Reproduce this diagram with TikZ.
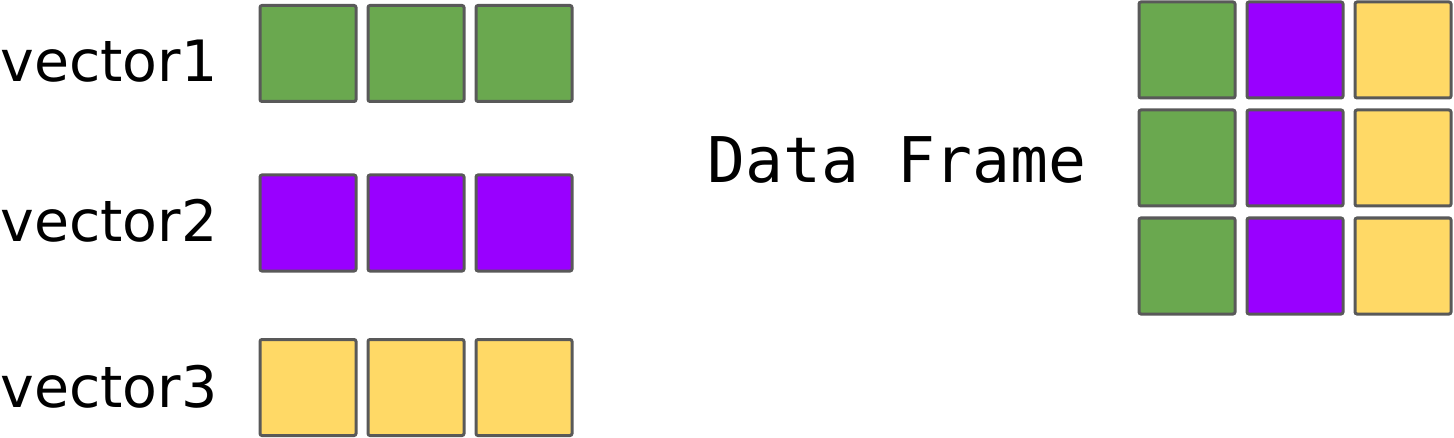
\documentclass[tikz,border=0pt]{standalone}
\usepackage{fontspec}
\setmainfont{DejaVu Sans}
\setmonofont{DejaVu Sans Mono}
\usepackage{xcolor}
\usetikzlibrary{positioning}
\definecolor{colgreen}{HTML}{6AA84F}
\definecolor{colpurple}{HTML}{9900FF}
\definecolor{colyellow}{HTML}{FFD966}
\definecolor{cellborder}{HTML}{595959}
\tikzset{
    cell/.style={rectangle, draw=cellborder, line width=1.5pt, rounded corners=1pt, minimum size=48pt, inner sep=0pt},
    green/.style={cell, fill=colgreen},
    purple/.style={cell, fill=colpurple},
    yellow/.style={cell, fill=colyellow},
    veclabel/.style={anchor=base west, inner sep=0pt, font=\fontsize{28.5}{30}\selectfont},
    dflabel/.style={anchor=base west, inner sep=0pt, font=\ttfamily\fontsize{31.5}{33}\selectfont}
}
\begin{document}
\begin{tikzpicture}[x=0.5pt, y=-0.5pt, node distance=4.5pt]
        \useasboundingbox (0,0) rectangle (1454,438);

        % Vector 1
        \node[veclabel] (L1) at (0,82) {vector1};
        \node[green] (V1a) at (308,53.5) {};
        \node[green, right=of V1a] (V1b) {};
        \node[green, right=of V1b] (V1c) {};

        % Vector 2
        \node[veclabel] (L2) at (0,242) {vector2};
        \node[purple] (V2a) at (308,223) {};
        \node[purple, right=of V2a] (V2b) {};
        \node[purple, right=of V2b] (V2c) {};

        % Vector 3
        \node[veclabel] (L3) at (0,407) {vector3};
        \node[yellow] (V3a) at (308,387.5) {};
        \node[yellow, right=of V3a] (V3b) {};
        \node[yellow, right=of V3b] (V3c) {};

        % Data frame
        \node[dflabel] (DF) at (707,183) {Data Frame};
        \node[green] (D11) at (1187,50) {};
        \node[purple, right=of D11] (D12) {};
        \node[yellow, right=of D12] (D13) {};
        \node[green, below=of D11] (D21) {};
        \node[purple, right=of D21] (D22) {};
        \node[yellow, right=of D22] (D23) {};
        \node[green, below=of D21] (D31) {};
        \node[purple, right=of D31] (D32) {};
        \node[yellow, right=of D32] (D33) {};
    \end{tikzpicture}
\end{document}
